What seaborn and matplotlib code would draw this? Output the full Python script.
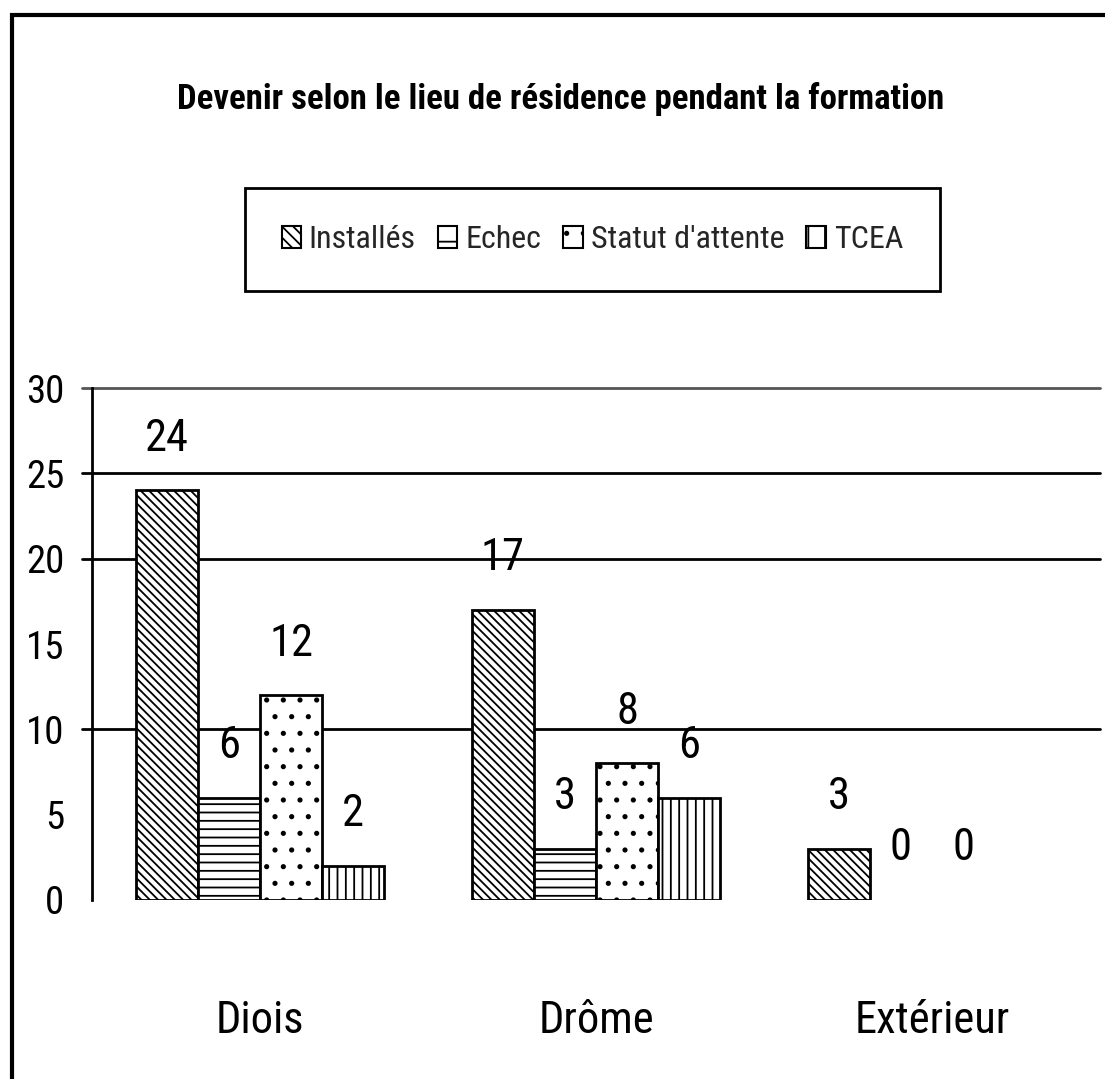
import numpy as np
import pandas as pd
import seaborn as sns
import matplotlib
matplotlib.use("Agg")
import matplotlib.pyplot as plt
from matplotlib import font_manager
from matplotlib.patches import Rectangle, Patch

# Data
lieux = ["Diois", "Drôme", "Extérieur"]
devenir = ["Installés", "Echec", "Statut d'attente", "TCEA"]
installes = [24, 17, 3]
echec = [6, 3, 0]
statut = [12, 8, 0]
tcea = [2, 6, np.nan]
titre = "Devenir selon le lieu de résidence pendant la formation"
yticks = [0, 5, 10, 15, 20, 25, 30]
grid_levels = [10, 20, 25, 30]

df = pd.DataFrame({
    "lieu": np.repeat(lieux, len(devenir)),
    "devenir": devenir * len(lieux),
    "effectif": [v for trio in zip(installes, echec, statut, tcea) for v in trio],
}).dropna()

sns.set_theme(style="white")
available = {f.name for f in font_manager.fontManager.ttflist}
narrow = [n for n in ["Liberation Sans Narrow", "Roboto Condensed", "DejaVu Sans Condensed"] if n in available]
plt.rcParams["font.family"] = narrow + ["DejaVu Sans"]
plt.rcParams["hatch.linewidth"] = 1.3
plt.rcParams["hatch.color"] = "black"

fig = plt.figure(figsize=(11.05, 10.79), dpi=100)
fig.patch.set_facecolor("white")
ax = fig.add_axes([0.0833, 0.1659, 0.9122, 0.4745])

sns.barplot(data=df, x="lieu", y="effectif", hue="devenir", order=lieux,
            hue_order=devenir, width=0.74, gap=0, ax=ax, errorbar=None,
            color="white", saturation=1, edgecolor="black", linewidth=2,
            legend=False)

hatches = ["\\\\\\\\", "--", ".", "||"]
for cont, h in zip(ax.containers, hatches):
    for bar in cont:
        bar.set_facecolor("white")
        bar.set_hatch(h)
        bar.set_edgecolor("black")
        if bar.get_height() == 0:
            bar.set_linewidth(0)
            bar.set_hatch(None)
    ax.bar_label(cont, fmt="%g", padding=22, fontsize=32, color="black")

ax.set_xlim(-0.5, 2.5)
ax.set_ylim(0, 30)
ax.set_yticks(yticks)
ax.tick_params(axis="y", length=0, labelsize=28, pad=20, colors="black")
ax.tick_params(axis="x", length=0, labelsize=32, pad=72, colors="black")
ax.set_xticks(range(len(lieux)))
ax.set_xticklabels(lieux)
ax.set_xticks([0.5], minor=True)
ax.tick_params(axis="x", which="minor", direction="in", length=11, width=2, color="black")
ax.set_xlabel("")
ax.set_ylabel("")

for lvl in grid_levels:
    ax.axhline(lvl, xmin=-0.01, xmax=1.0, color="#555555" if lvl == 30 else "black",
               lw=2, zorder=0, clip_on=False)

for side in ["top", "right", "bottom"]:
    ax.spines[side].set_visible(False)
ax.spines["left"].set_color("black")
ax.spines["left"].set_linewidth(2)

handles = [Patch(facecolor="white", edgecolor="black", hatch=h, lw=1.5, label=lab)
           for h, lab in zip(["\\\\\\", "-", ".", "|"], devenir)]
leg = fig.legend(handles=handles, loc="center", bbox_to_anchor=(0.536, 0.778),
                 ncol=4, frameon=True, fontsize=23, handlelength=0.6,
                 handleheight=0.7, handletextpad=0.25, columnspacing=0.7,
                 borderpad=1.15, borderaxespad=0, fancybox=False, framealpha=1)
leg.get_frame().set_edgecolor("black")
leg.get_frame().set_linewidth(2)

fig.text(0.507, 0.908, titre, ha="center", va="center",
         fontsize=25, fontweight="bold", color="black")

# outer frame of the chart area
fig.patches.append(Rectangle((0.011, -0.02), 1.05, 1.006, transform=fig.transFigure,
                             fill=False, edgecolor="black", lw=3))

fig.savefig("out.png", dpi=100, facecolor="white")
